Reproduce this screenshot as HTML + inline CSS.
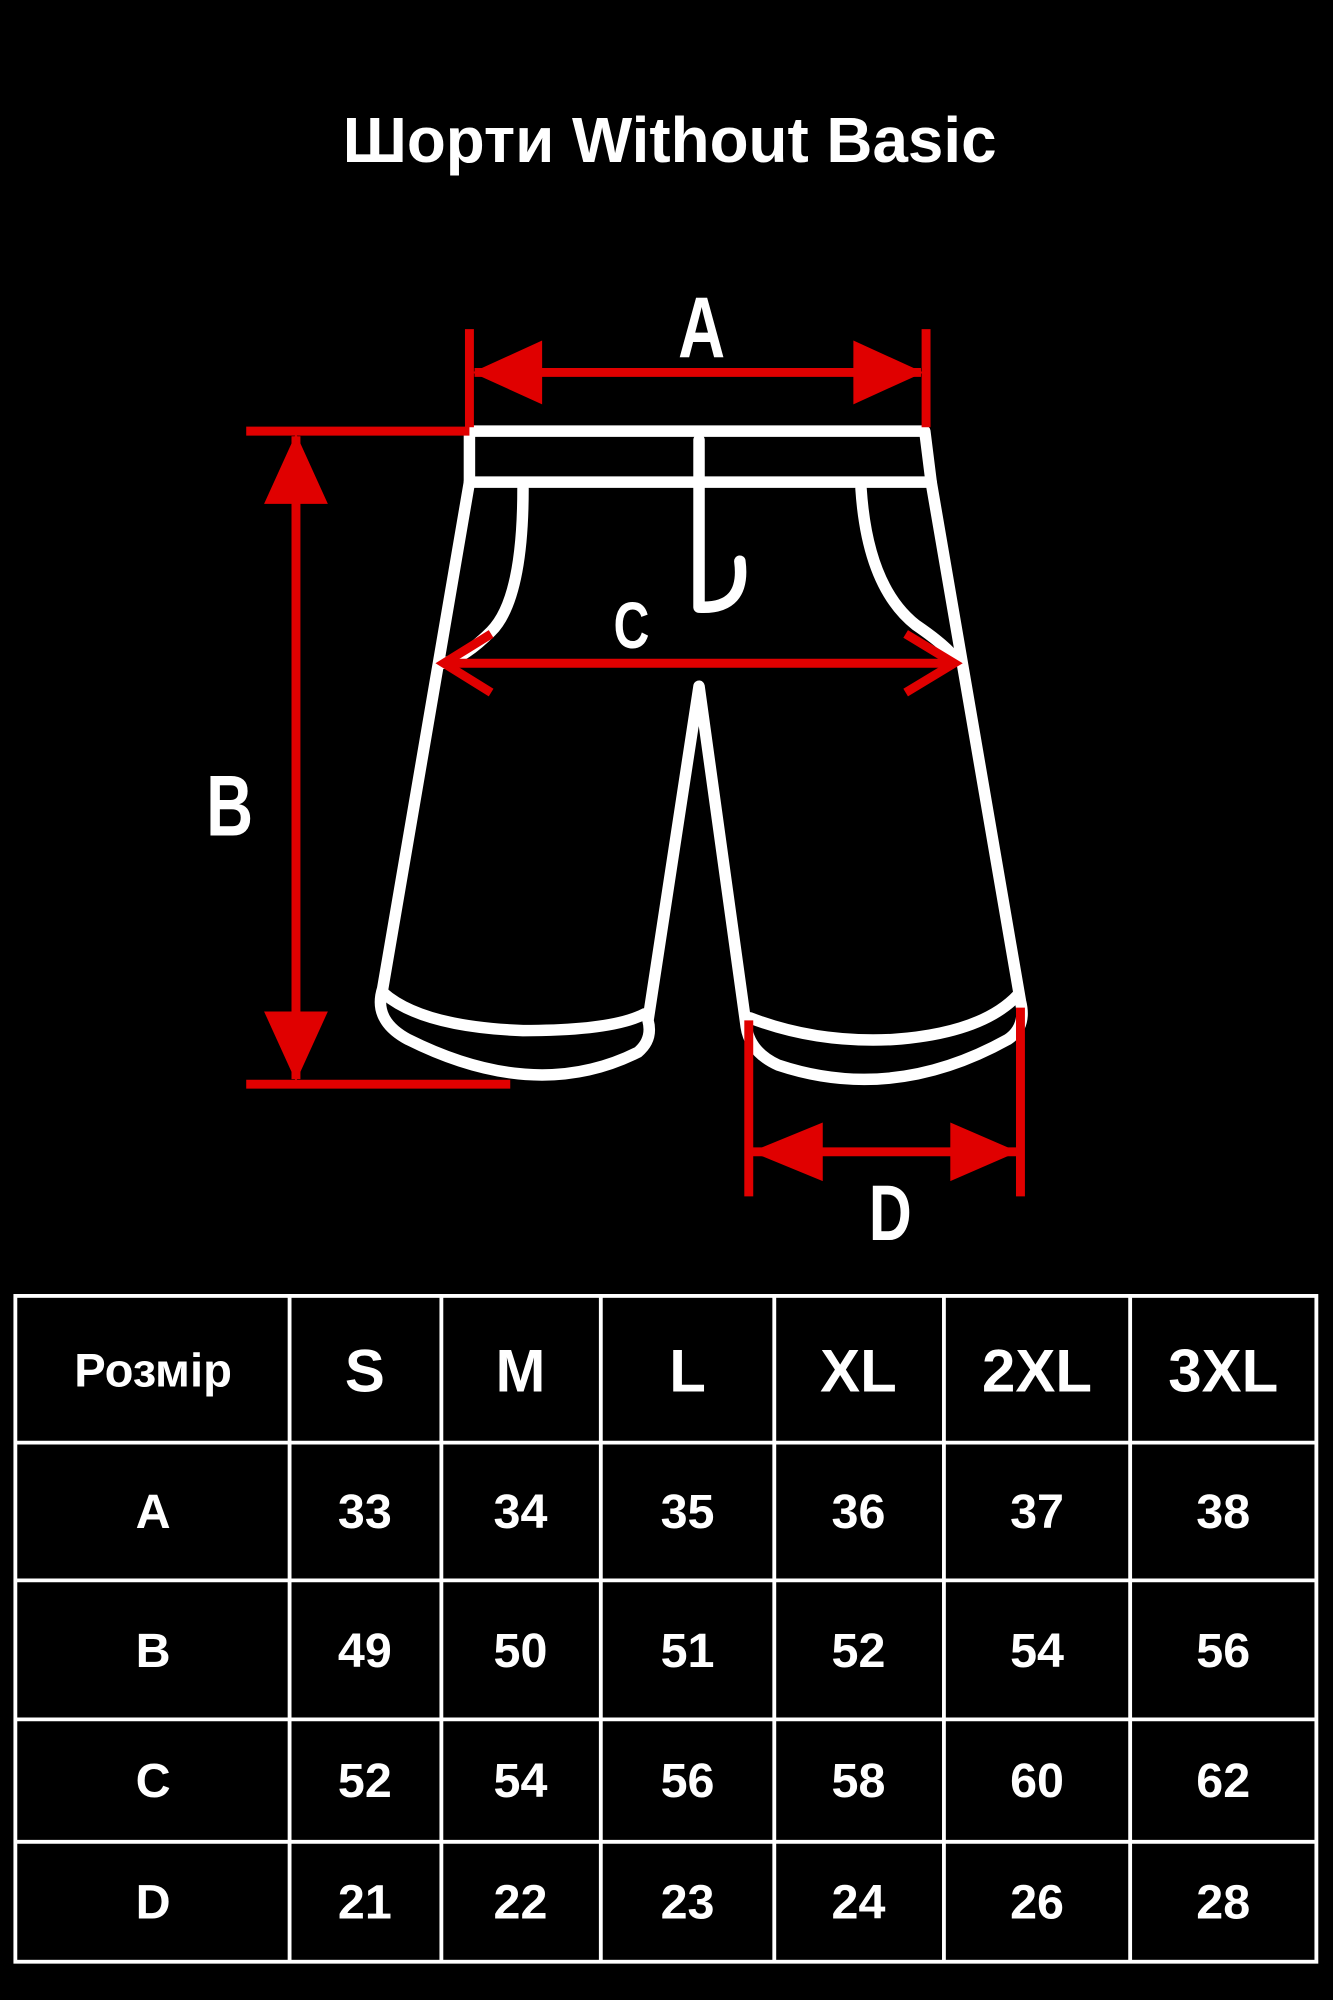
<!DOCTYPE html>
<html><head><meta charset="utf-8"><style>
html,body{margin:0;padding:0;background:#000;}
svg{display:block;}
text{font-family:"Liberation Sans","DejaVu Sans",sans-serif;font-weight:bold;fill:#fff;}
</style></head><body>
<svg width="1333" height="2000" viewBox="0 0 1045 1568" xmlns="http://www.w3.org/2000/svg">
<rect width="1045" height="1568" fill="#000"/>
<text x="525" y="127" font-size="50" text-anchor="middle">Шорти Without Basic</text>

<g fill="none" stroke="#fff" stroke-width="9" stroke-linejoin="round" stroke-linecap="round">
<path d="M368,338 L725,338 L730,378 L368,378 Z"/>
<path d="M368,378 L300,775 Q292,800 320,815 Q420,865 500,825 Q512,815 508,800 L548,538 L585,805 Q588,825 610,835 Q700,865 790,815 Q805,805 800,785 L730,378"/>
<path d="M300,778 Q330,805 410,808 Q480,808 505,795"/>
<path d="M588,798 Q640,818 700,815 Q770,810 798,780"/>
<path d="M548,345 L548,476 Q585,478 580,440"/>
<path d="M410,383 Q410,470 385,495 Q365,515 348,520"/>
<path d="M675,383 Q680,460 718,490 Q740,505 748,515"/>
</g>

<g stroke="#e00000" stroke-width="7" fill="none">
<line x1="368" y1="258" x2="368" y2="335"/>
<line x1="726" y1="258" x2="726" y2="335"/>
<line x1="372" y1="292" x2="722" y2="292"/>
<line x1="193" y1="338" x2="368" y2="338"/>
<line x1="193" y1="850" x2="400" y2="850"/>
<line x1="232" y1="342" x2="232" y2="846"/>
<line x1="348" y1="520" x2="748" y2="520"/>
<polyline points="385,497 348,520 385,543"/>
<polyline points="710,497 748,520 710,543"/>
<line x1="587" y1="800" x2="587" y2="938"/>
<line x1="800" y1="790" x2="800" y2="938"/>
<line x1="590" y1="903" x2="797" y2="903"/>
</g>
<g fill="#e00000">
<polygon points="370,292 425,267 425,317"/>
<polygon points="724,292 669,267 669,317"/>
<polygon points="232,340 207,395 257,395"/>
<polygon points="232,848 207,793 257,793"/>
<polygon points="589,903 645,880 645,926"/>
<polygon points="798,903 745,880 745,926"/>
</g>
<g font-family="'Liberation Sans Narrow','Liberation Sans',sans-serif">
<text x="550" y="280" font-size="68" text-anchor="middle" transform="translate(550,0) scale(0.75,1) translate(-550,0)">A</text>
<text x="180" y="655" font-size="68" text-anchor="middle" transform="translate(180,0) scale(0.75,1) translate(-180,0)">B</text>
<text x="495" y="508" font-size="52" text-anchor="middle" transform="translate(495,0) scale(0.75,1) translate(-495,0)">C</text>
<text x="698" y="972" font-size="62" text-anchor="middle" transform="translate(698,0) scale(0.75,1) translate(-698,0)">D</text>
</g>

<g stroke="#fff" stroke-width="3" fill="none">
<rect x="12" y="1016" width="1020" height="522"/>
<line x1="227" y1="1016" x2="227" y2="1538"/>
<line x1="346" y1="1016" x2="346" y2="1538"/>
<line x1="471" y1="1016" x2="471" y2="1538"/>
<line x1="607" y1="1016" x2="607" y2="1538"/>
<line x1="740" y1="1016" x2="740" y2="1538"/>
<line x1="886" y1="1016" x2="886" y2="1538"/>
<line x1="12" y1="1131" x2="1032" y2="1131"/>
<line x1="12" y1="1239" x2="1032" y2="1239"/>
<line x1="12" y1="1348" x2="1032" y2="1348"/>
<line x1="12" y1="1444" x2="1032" y2="1444"/>
</g>
<g text-anchor="middle">
<text x="120" y="1087" font-size="37">Розмір</text>
<g font-size="47">
<text x="286" y="1091">S</text><text x="408" y="1091">M</text><text x="539" y="1091">L</text>
<text x="673" y="1091">XL</text><text x="813" y="1091">2XL</text><text x="959" y="1091">3XL</text>
</g>
<g font-size="38">
<text x="120" y="1198">A</text><text x="286" y="1198">33</text><text x="408" y="1198">34</text><text x="539" y="1198">35</text><text x="673" y="1198">36</text><text x="813" y="1198">37</text><text x="959" y="1198">38</text>
<text x="120" y="1307">B</text><text x="286" y="1307">49</text><text x="408" y="1307">50</text><text x="539" y="1307">51</text><text x="673" y="1307">52</text><text x="813" y="1307">54</text><text x="959" y="1307">56</text>
<text x="120" y="1409">C</text><text x="286" y="1409">52</text><text x="408" y="1409">54</text><text x="539" y="1409">56</text><text x="673" y="1409">58</text><text x="813" y="1409">60</text><text x="959" y="1409">62</text>
<text x="120" y="1504">D</text><text x="286" y="1504">21</text><text x="408" y="1504">22</text><text x="539" y="1504">23</text><text x="673" y="1504">24</text><text x="813" y="1504">26</text><text x="959" y="1504">28</text>
</g>
</g>
</svg>
</body></html>
